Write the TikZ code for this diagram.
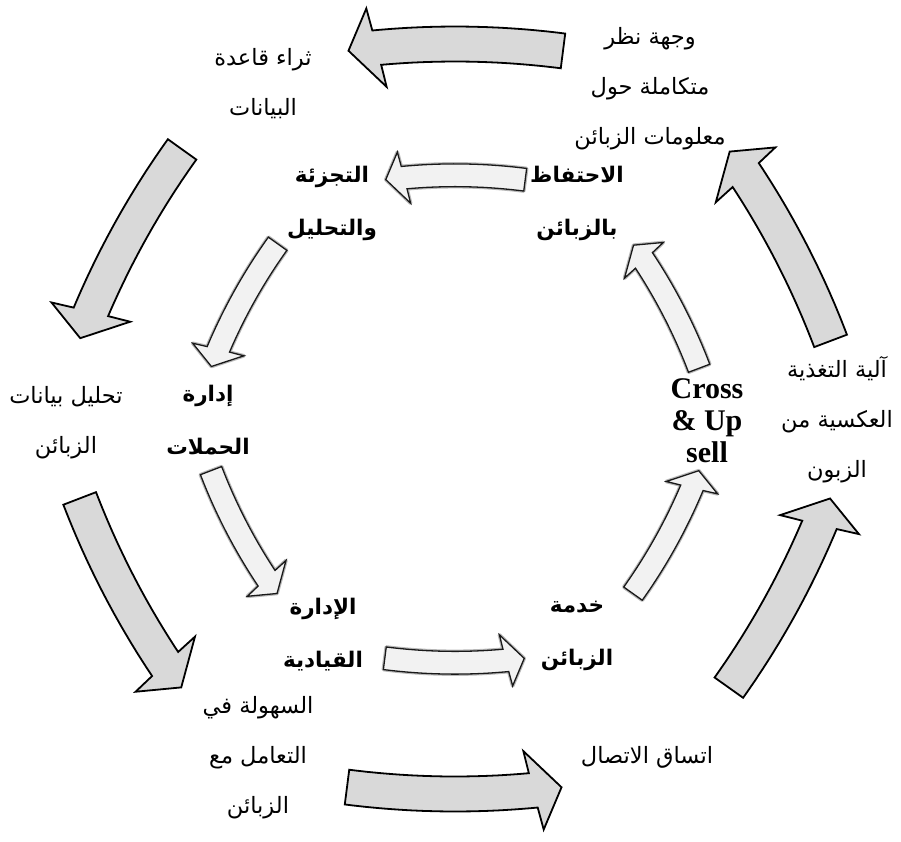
\documentclass[tikz,border=0pt]{standalone}
\usepackage{fontspec}
\newfontfamily\arabicfont[Script=Arabic]{DejaVu Sans}
\newfontfamily\latinserif{Liberation Serif}
\TeXXeTstate=1

% Curved block arrow lying on the cycle around (455,419).
% #1 = angle of the arrow's middle on the cycle (degrees, clockwise on the page),
% #2 = scale about the cycle centre, #3 = drawing style.
% The arrow runs counter-clockwise, its head at the smaller angle.
\newcommand\cyclearrow[3]{%
  \pgfmathsetmacro\cAx{455-475*#2*cos(#1)}%
  \pgfmathsetmacro\cAy{419-475*#2*sin(#1)}%
  \pgfmathsetmacro\cAr{850*#2}%
  \pgfmathsetmacro\cAw{17.5*#2}%
  \pgfmathsetmacro\cAh{40*#2}%
  \pgfmathsetmacro\cAtail{#1+7.3}%
  \pgfmathsetmacro\cAtip{#1-7.2}%
  \pgfmathsetmacro\cAbo{\cAtip+1.48}%
  \pgfmathsetmacro\cAbi{\cAtip+2.36}%
  \pgfmathsetmacro\cAjo{\cAtip+1.73}%
  \pgfmathsetmacro\cAji{\cAtip+2.11}%
  \draw[#3]
    plot[domain=\cAtail:\cAjo,samples=30]
      ({\cAx+(\cAr+\cAw)*cos(\x)},{\cAy+(\cAr+\cAw)*sin(\x)})
    -- ({\cAx+(\cAr+\cAh)*cos(\cAbo)},{\cAy+(\cAr+\cAh)*sin(\cAbo)})
    -- ({\cAx+\cAr*cos(\cAtip)},{\cAy+\cAr*sin(\cAtip)})
    -- ({\cAx+(\cAr-\cAh)*cos(\cAbi)},{\cAy+(\cAr-\cAh)*sin(\cAbi)})
    -- plot[domain=\cAji:\cAtail,samples=30]
      ({\cAx+(\cAr-\cAw)*cos(\x)},{\cAy+(\cAr-\cAw)*sin(\x)})
    -- cycle;
}

\begin{document}
\begin{tikzpicture}[x=1pt,y=-1pt,
  outerarrow/.style={fill=gray!30,draw=black,line width=1.8pt,line join=miter},
  innerhalo/.style={draw=black!28,line width=3.6pt,line join=round},
  innerarrow/.style={fill=gray!10,draw=black!90,line width=1.3pt,line join=miter},
  plainlbl/.style={align=center,inner sep=0pt,
    font=\arabicfont\fontsize{22.5}{50}\selectfont},
  boldlbl/.style={align=center,inner sep=0pt,
    font=\arabicfont\bfseries\fontsize{21.5}{53}\selectfont},
  latinlbl/.style={align=center,inner sep=0pt,
    font=\latinserif\bfseries\fontsize{30}{32}\selectfont},
]
\useasboundingbox (0,0) rectangle (901,841);

% outer cycle
\foreach \p in {270,208.3,151.7,90,28.1,331.9}
  \cyclearrow{\p}{1}{outerarrow};

% inner cycle
\foreach \p in {270,208.3,151.7,90,28.1,331.9}{
  \cyclearrow{\p}{0.65}{innerhalo}
  \cyclearrow{\p}{0.65}{innerarrow}
}

% outer labels
\node[plainlbl] (view) at (650,89)
  {\beginR وجهة نظر\endR\\\beginR متكاملة حول\endR\\\beginR معلومات الزبائن\endR};
\node[plainlbl] (enrich) at (263,84)
  {\beginR ثراء قاعدة\endR\\\beginR البيانات\endR};
\node[plainlbl] (analysis) at (66,423)
  {\beginR تحليل بيانات\endR\\\beginR الزبائن\endR};
\node[plainlbl] (ease) at (258,758)
  {\beginR السهولة في\endR\\\beginR التعامل مع\endR\\\beginR الزبائن\endR};
\node[plainlbl] (consistency) at (647,757)
  {\beginR اتساق الاتصال\endR};
\node[plainlbl] (feedback) at (837,420)
  {\beginR آلية التغذية\endR\\\beginR العكسية من\endR\\\beginR الزبون\endR};

% inner labels
\node[boldlbl] (retention) at (577,203)
  {\beginR الاحتفاظ\endR\\\beginR بالزبائن\endR};
\node[boldlbl] (segmentation) at (332,203)
  {\beginR التجزئة\endR\\\beginR والتحليل\endR};
\node[boldlbl] (campaigns) at (208,420)
  {\beginR إدارة\endR\\\beginR الحملات\endR};
\node[boldlbl] (leadership) at (323,635)
  {\beginR الإدارة\endR\\\beginR القيادية\endR};
\node[boldlbl] (service) at (577,636)
  {\beginR خدمة\endR\\\beginR الزبائن\endR};
\node[latinlbl] (crossup) at (707,421) {Cross\\\& Up\\sell};
\end{tikzpicture}
\end{document}
